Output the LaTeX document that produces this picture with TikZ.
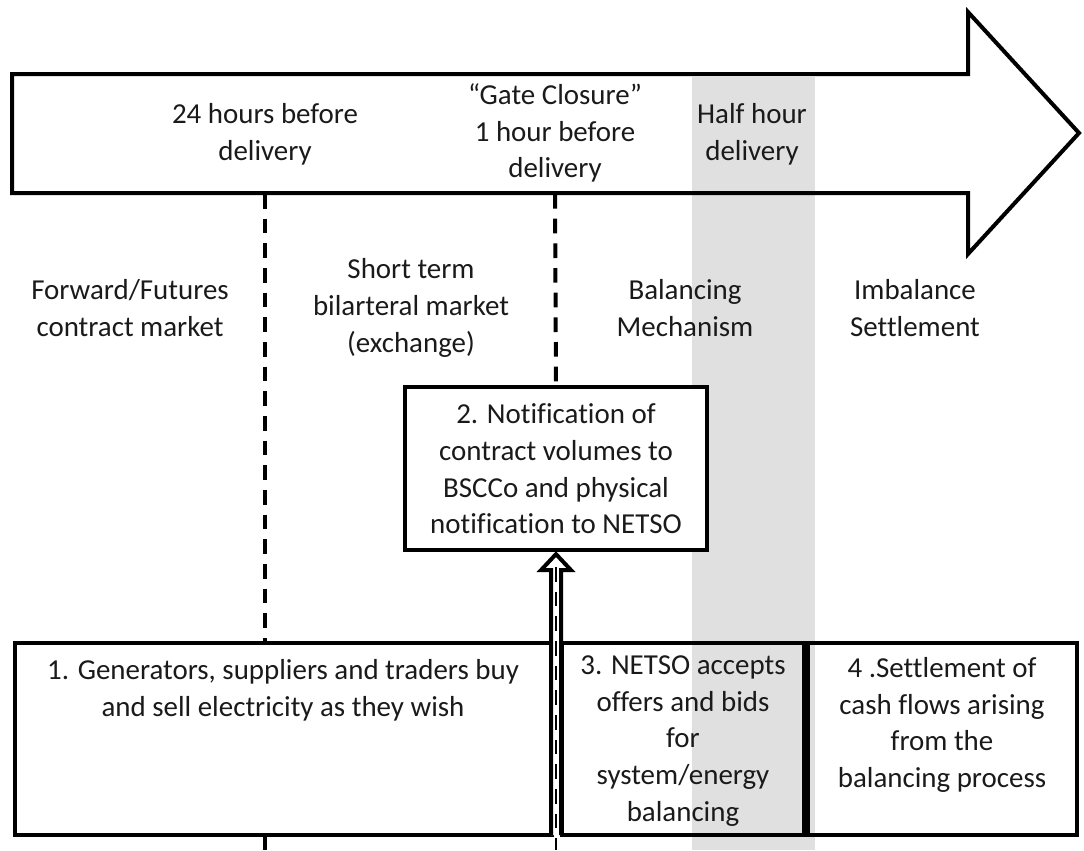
\documentclass[tikz,border=0pt]{standalone}
\usepackage{fontspec}
\setmainfont[Ligatures=NoCommon]{Carlito}
\usetikzlibrary{calc,positioning,fit}
\definecolor{band}{HTML}{E0E0E0}
\definecolor{ink}{HTML}{1A1A1A}

\begin{document}
\begin{tikzpicture}[x=0.75pt, y=-0.75pt,
  txt/.style={align=center, inner sep=0pt, text=ink,
              font=\fontsize{21.7}{27.5}\selectfont},
  boxline/.style={draw=black, line width=3.2pt, inner sep=0pt},
  marker/.style={draw=black, line width=3pt, dash pattern=on 11pt off 7.5pt},
  bigarrow/.style={draw=black, line width=3pt, line join=miter}]
\useasboundingbox (0,0) rectangle (1084,850);

% half-hour delivery band
\fill[band] (692,77) rectangle (815,850);

% time markers: 24 hours before and gate closure
\coordinate (m1top) at (265,194);
\coordinate (m1bot) at (265,850);
\coordinate (m2top) at (555,194);
\draw[marker] (m1top) -- (m1bot);

% timeline arrow
\draw[bigarrow] (12,74) -- (968,74) -- (968,12) -- (1079,133)
  -- (968,254) -- (968,193) -- (12,193) -- cycle;

\node[txt] (t24)   at (265,134) {24 hours before\\delivery};
\node[txt] (tgate) at (555,133) {“Gate Closure”\\1 hour before\\delivery};
\node[txt] (thalf) at (752,134) {Half hour\\delivery};

% market stages
\node[txt] (s1) at (130,308) {Forward/Futures\\contract market};
\node[txt] (s2) at (411,308) {Short term\\bilarteral market\\(exchange)};
\node[txt] (s3) at (685,308) {Balancing\\Mechanism};
\node[txt] (s4) at (915,308) {Imbalance\\Settlement};

% process boxes
\node[boxline, fill=white, fit={(405,387) (707,550)}] (box2) {};
\draw[marker] (m2top) -- (box2.north);
\node[txt] (b2) at (556,469) {2. Notification of\\contract volumes to\\BSCCo and physical\\notification to NETSO};

\node[boxline, fill=white, fit={(15,643) (552,835)}] (box1) {};
\node[txt] (b1) at (283,690) {1. Generators, suppliers and traders buy\\and sell electricity as they wish};

\node[boxline, fit={(562,643) (804,835)}] (box3) {};
\node[txt] (b3) at (683,741) {3. NETSO accepts\\offers and bids\\for\\system/energy\\balancing};

\node[boxline, fit={(808,643) (1077,835)}] (box4) {};
\node[txt] (b4) at (942,725) {4 .Settlement of\\cash flows arising\\from the\\balancing process};

% notification arrow from the trading box up to box 2
\coordinate (foot) at (556,835);
\coordinate (tip) at ($(box2.south)+(0,2)$);
\draw[black, line width=3pt, fill=white, line join=miter]
  ($(foot)+(-5,0)$) -- ($(tip)+(-5,16)$) -- ($(tip)+(-15,16)$) -- (tip)
  -- ($(tip)+(15,16)$) -- ($(tip)+(5,16)$) -- ($(foot)+(5,0)$);
\draw[marker, line width=2.2pt] ($(tip)+(0,13)$) -- (556,850);
\end{tikzpicture}
\end{document}
